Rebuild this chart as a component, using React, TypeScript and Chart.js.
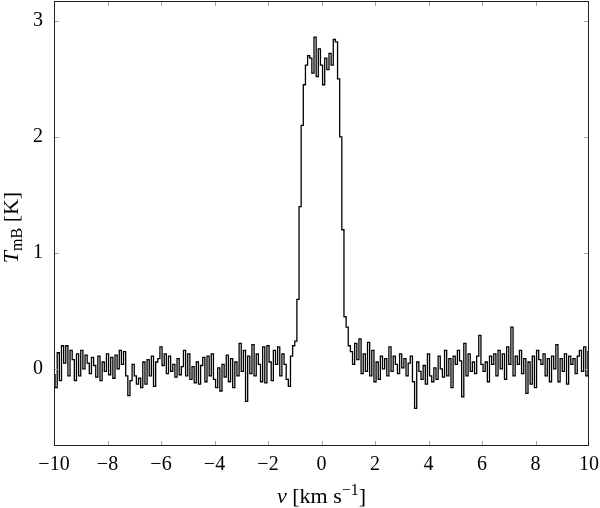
import React, { useEffect, useRef } from "react";
import { Chart, registerables } from "chart.js";

Chart.register(...registerables);

// Spectral channel grid (km/s)
const CHANNEL_WIDTH = 0.08;

// Baseline noise, v = -10.00 ... -1.04
const LEFT_START = -10;
const LEFT_NOISE = [
  -0.05, -0.16, 0.14, -0.1, 0.2, 0.05, 0.2, -0.06, 0.16, 0.08, -0.1, 0.13, -0.06,
  0.16, 0.0, 0.12, 0.05, -0.04, 0.1, 0.03, -0.07, 0.11, -0.1, 0.06, -0.02,
  0.13, -0.05, 0.1, -0.08, 0.12, 0.0, 0.16, 0.04, 0.15, -0.06, -0.23, -0.1, 0.04,
  -0.06, -0.13, -0.08, -0.16, 0.06, -0.13, 0.08, -0.06, 0.11, -0.15, 0.06, 0.09,
  0.19, 0.03, 0.13, -0.04, 0.11, -0.02, 0.04, -0.07, 0.09, -0.05, 0.02, 0.16, -0.06,
  0.13, -0.09, 0.02, -0.12, 0.06, -0.13, 0.03, 0.1, -0.11, 0.11, -0.06, 0.13,
  -0.09, -0.16, 0.01, -0.19, 0.04, -0.07, 0.12, -0.11, 0.09, -0.16, 0.06, -0.06, 0.22,
  -0.02, 0.16, -0.28, 0.11, -0.04, 0.21, -0.06, 0.13, 0.04, -0.11, 0.19, -0.12,
  0.2, 0.06, -0.1, 0.16, 0.04, 0.19, -0.06, 0.13, 0.04, -0.09, -0.15, 0.11, 0.2,
];

// Emission line, v = -0.96 ... 1.04
const LINE_START = -0.96;
const LINE_PROFILE = [
  0.24, 0.6, 1.4, 2.1, 2.45, 2.62, 2.7, 2.68, 2.55, 2.86, 2.52, 2.76, 2.62,
  2.45, 2.68, 2.58, 2.72, 2.62, 2.84, 2.82, 2.5, 2.0, 1.2, 0.45, 0.36, 0.2,
];

// Baseline noise, v = 1.12 ... 10.00
const RIGHT_START = 1.12;
const RIGHT_NOISE = [
  0.15, 0.04, 0.22, 0.08, 0.26, -0.04, 0.13, -0.02, 0.23, -0.06, 0.16, -0.11,
  0.06, -0.09, 0.11, 0.0, 0.09, -0.06, 0.19, -0.02, 0.11, 0.04, -0.04, 0.13,
  0.01, 0.09, -0.06, 0.05, 0.11, -0.11, -0.34, 0.06, -0.02, -0.09, 0.03, -0.13, 0.13,
  -0.06, -0.11, 0.01, -0.09, 0.11, 0.0, -0.07, 0.16, -0.06, 0.09, -0.16, 0.11,
  0.04, 0.16, 0.07, -0.24, 0.22, -0.06, 0.13, -0.02, 0.06, -0.04, 0.11, 0.29, 0.04,
  -0.02, 0.06, -0.11, 0.11, 0.04, 0.13, -0.06, 0.16, 0.0, 0.13, -0.09, 0.19,
  0.04, 0.36, -0.06, 0.11, 0.04, 0.16, -0.04, 0.09, -0.21, 0.06, -0.13, 0.11, -0.16,
  0.16, 0.08, 0.04, 0.13, -0.06, 0.09, -0.11, 0.11, 0.0, 0.21, -0.11, 0.09,
  -0.02, 0.13, -0.13, 0.11, 0.04, 0.09, -0.04, 0.11, 0.16, -0.02, 0.19, -0.06, 0.15,
];

const X_TICKS = [-10, -8, -6, -4, -2, 0, 2, 4, 6, 8, 10];
const Y_TICKS = [0, 1, 2, 3];
const X_MIN = -10;
const X_MAX = 10;
const Y_MIN = -0.664;
const Y_MAX = 3.172;

const SERIF = "'Liberation Serif', 'Times New Roman', serif";

const segments = [
  { start: LEFT_START, values: LEFT_NOISE },
  { start: LINE_START, values: LINE_PROFILE },
  { start: RIGHT_START, values: RIGHT_NOISE },
];

const fmt = (v: number) => (v < 0 ? "\u2212" + Math.abs(v) : String(v));

const zeroPad = (s: any) => {
  s.paddingLeft = 0;
  s.paddingRight = 0;
  s.paddingTop = 0;
  s.paddingBottom = 0;
};

const framePlugin = {
  id: "frameTicks",
  afterDraw(chart: any) {
    const ctx = chart.ctx;
    const { left, right, top, bottom } = chart.chartArea;
    const xs = chart.scales.x;
    const ys = chart.scales.y;
    const len = 5;
    ctx.save();
    ctx.strokeStyle = "#a8a8a8";
    ctx.lineWidth = 1;
    ctx.beginPath();
    X_TICKS.forEach((t) => {
      if (t <= X_MIN || t >= X_MAX) return;
      const px = Math.round(xs.getPixelForValue(t)) + 0.5;
      ctx.moveTo(px, bottom);
      ctx.lineTo(px, bottom - len);
      ctx.moveTo(px, top);
      ctx.lineTo(px, top + len);
    });
    Y_TICKS.forEach((t) => {
      const py = Math.round(ys.getPixelForValue(t)) + 0.5;
      ctx.moveTo(left, py);
      ctx.lineTo(left + len, py);
      ctx.moveTo(right, py);
      ctx.lineTo(right - len, py);
    });
    ctx.stroke();
    ctx.strokeStyle = "#222";
    ctx.lineWidth = 1;
    ctx.strokeRect(
      Math.round(left) + 0.5,
      Math.round(top) + 0.5,
      Math.round(right - left) - 1,
      Math.round(bottom - top) - 1
    );

    // Axis titles
    const big = 22;
    const small = 16;
    ctx.fillStyle = "#000";
    ctx.textBaseline = "alphabetic";
    ctx.textAlign = "left";

    // x title: v [km s^-1]
    const xParts = [
      { t: "v", f: `italic ${big}px ${SERIF}`, dy: 0 },
      { t: " [km s", f: `${big}px ${SERIF}`, dy: 0 },
      { t: "\u22121", f: `${small}px ${SERIF}`, dy: -8 },
      { t: "]", f: `${big}px ${SERIF}`, dy: 0 },
    ];
    let w = 0;
    xParts.forEach((p) => {
      ctx.font = p.f;
      w += ctx.measureText(p.t).width;
    });
    let cx = (left + right) / 2 - w / 2;
    const by = 503;
    xParts.forEach((p) => {
      ctx.font = p.f;
      ctx.fillText(p.t, cx, by + p.dy);
      cx += ctx.measureText(p.t).width;
    });

    // y title: T_mB [K]
    const yParts = [
      { t: "T", f: `italic ${big}px ${SERIF}`, dy: 0 },
      { t: "mB", f: `${small}px ${SERIF}`, dy: 4 },
      { t: " [K]", f: `${big}px ${SERIF}`, dy: 0 },
    ];
    w = 0;
    yParts.forEach((p) => {
      ctx.font = p.f;
      w += ctx.measureText(p.t).width;
    });
    ctx.translate(18, (top + bottom) / 2 + 4);
    ctx.rotate(-Math.PI / 2);
    let lx = -w / 2;
    yParts.forEach((p) => {
      ctx.font = p.f;
      ctx.fillText(p.t, lx, p.dy);
      lx += ctx.measureText(p.t).width;
    });
    ctx.restore();
  },
};

export default function App() {
  const ref = useRef<HTMLCanvasElement | null>(null);

  useEffect(() => {
    if (!ref.current) return;
    const data = segments.flatMap((s) =>
      s.values.map((t, i) => ({ x: s.start + i * CHANNEL_WIDTH, y: t }))
    );
    const chart = new Chart(ref.current, {
      type: "line",
      data: {
        datasets: [
          {
            data,
            borderColor: "#000",
            borderWidth: 1.3,
            pointRadius: 0,
            stepped: "middle",
            fill: false,
          },
        ],
      },
      options: {
        animation: false,
        responsive: false,
        layout: { padding: { top: 1, right: 11, left: 0, bottom: 0 } },
        plugins: {
          legend: { display: false },
          tooltip: { enabled: false },
          title: { display: false },
        },
        scales: {
          x: {
            type: "linear",
            min: X_MIN,
            max: X_MAX,
            grid: { display: false, drawTicks: false },
            border: { display: false },
            afterBuildTicks: (s: any) => {
              s.ticks = X_TICKS.map((v) => ({ value: v }));
            },
            afterFit: (s: any) => {
              s.height = 62;
              zeroPad(s);
            },
            ticks: {
              autoSkip: false,
              maxRotation: 0,
              padding: 7,
              color: "#000",
              font: { family: SERIF, size: 20 },
              callback: (v: any) => fmt(Number(v)),
            },
          },
          y: {
            type: "linear",
            min: Y_MIN,
            max: Y_MAX,
            grid: { display: false, drawTicks: false },
            border: { display: false },
            afterBuildTicks: (s: any) => {
              s.ticks = Y_TICKS.map((v) => ({ value: v }));
            },
            afterFit: (s: any) => {
              s.width = 54;
              zeroPad(s);
            },
            ticks: {
              autoSkip: false,
              padding: 11,
              color: "#000",
              font: { family: SERIF, size: 20 },
              callback: (v: any) => fmt(Number(v)),
            },
          },
        },
      },
      plugins: [framePlugin],
    });
    return () => chart.destroy();
  }, []);

  return (
    <div style={{ position: "absolute", left: 0, top: 0, width: 600, height: 508, background: "#fff" }}>
      <canvas ref={ref} width={600} height={508} />
    </div>
  );
}
